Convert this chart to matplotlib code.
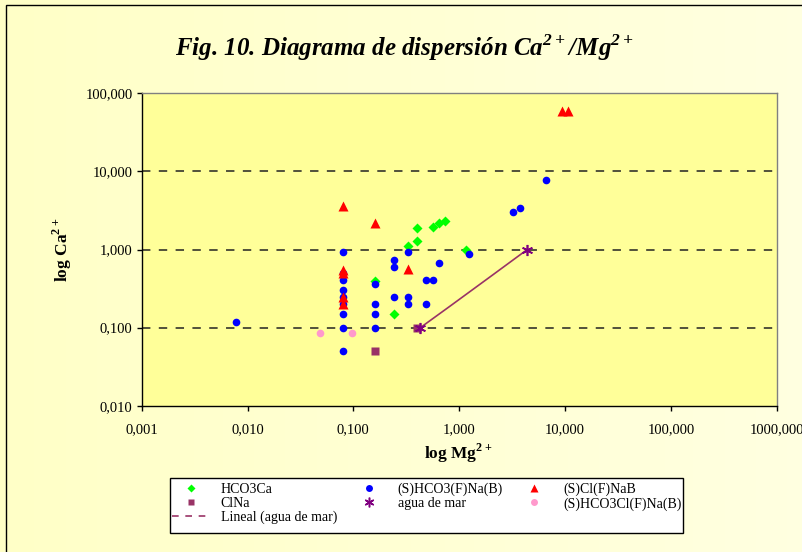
import numpy as np
import matplotlib
matplotlib.use("Agg")
import matplotlib.pyplot as plt
from matplotlib.lines import Line2D
from matplotlib.patches import Rectangle
from matplotlib.ticker import FixedLocator, FuncFormatter, NullLocator

plt.rcParams["font.family"] = ["Liberation Serif", "DejaVu Serif"]
plt.rcParams["mathtext.fontset"] = "custom"
plt.rcParams["mathtext.rm"] = "Liberation Serif"
plt.rcParams["mathtext.bf"] = "Liberation Serif:bold"
plt.rcParams["mathtext.bfit"] = "Liberation Serif:bold:italic"

# ---- data (Mg2+, Ca2+) per water type ----
hco3ca_mg = [0.16, 0.24, 0.33, 0.40, 0.40, 0.57, 0.65, 0.73, 1.15]
hco3ca_ca = [0.40, 0.15, 1.12, 1.30, 1.90, 1.96, 2.20, 2.29, 1.00]

hco3na_mg = [0.0077,
             0.08, 0.08, 0.08, 0.08, 0.08, 0.08, 0.08, 0.08, 0.08,
             0.16, 0.16, 0.16, 0.16,
             0.24, 0.24, 0.24, 0.33, 0.33, 0.33,
             0.485, 0.57, 0.485, 0.65, 1.24, 3.22, 3.79, 6.65]
hco3na_ca = [0.117,
             0.94, 0.50, 0.41, 0.30, 0.25, 0.20, 0.15, 0.10, 0.05,
             0.36, 0.20, 0.15, 0.10,
             0.73, 0.60, 0.25, 0.94, 0.25, 0.20,
             0.41, 0.41, 0.20, 0.68, 0.87, 2.99, 3.37, 7.7]

clnab_mg = [0.08, 0.08, 0.08, 0.08, 0.08, 0.16, 0.33, 9.3, 10.7]
clnab_ca = [3.6, 0.55, 0.50, 0.25, 0.20, 2.2, 0.56, 60.0, 60.0]

clna_mg = [0.16, 0.40]
clna_ca = [0.05, 0.10]

mar_mg = [0.43, 4.4]
mar_ca = [0.10, 1.00]

hco3cl_mg = [0.048, 0.098]
hco3cl_ca = [0.085, 0.085]

x_ticks = [0.001, 0.01, 0.1, 1, 10, 100, 1000]
y_ticks = [0.01, 0.1, 1, 10, 100]

W, H = 803, 552
fig = plt.figure(figsize=(W / 100, H / 100), dpi=100)
fig.patch.set_facecolor("#FFFFCC")

# soft horizontal background gradient
bg = fig.add_axes([0, 0, 1, 1], zorder=-10)
grad = np.linspace(0, 1, 256)[None, :]
c0 = np.array([1.0, 1.0, 0.78])
c1 = np.array([1.0, 1.0, 0.88])
img = c0[None, None, :] * (1 - grad[..., None]) + c1[None, None, :] * grad[..., None]
bg.imshow(img, aspect="auto", extent=[0, 1, 0, 1])
bg.set_axis_off()
fig.patches.append(Rectangle((6 / W, -0.05), 1.1, 1 - 5 / H + 0.05,
                             transform=fig.transFigure, fill=False,
                             edgecolor="black", linewidth=1.0, zorder=-5))

ax = fig.add_axes([141.7 / W, 1 - 405.7 / H, 635 / W, 312.4 / H])
ax.set_facecolor("#FFFF99")
ax.set_xscale("log")
ax.set_yscale("log")
ax.set_xlim(x_ticks[0], x_ticks[-1])
ax.set_ylim(y_ticks[0], y_ticks[-1])

fmt = FuncFormatter(lambda v, p: f"{v:.3f}".replace(".", ","))
ax.xaxis.set_major_locator(FixedLocator(x_ticks))
ax.yaxis.set_major_locator(FixedLocator(y_ticks))
ax.xaxis.set_minor_locator(NullLocator())
ax.yaxis.set_minor_locator(NullLocator())
ax.xaxis.set_major_formatter(fmt)
ax.yaxis.set_major_formatter(fmt)
ax.tick_params(axis="both", direction="out", length=3.5, width=1,
               labelsize=10.5, color="black")
ax.tick_params(axis="x", pad=9)
ax.tick_params(axis="y", pad=3)

for s in ("left", "bottom"):
    ax.spines[s].set_color("black")
    ax.spines[s].set_linewidth(1.0)
for s in ("top", "right"):
    ax.spines[s].set_color("#808080")
    ax.spines[s].set_linewidth(1.0)

for yv in y_ticks[1:-1]:
    ax.axhline(yv, color="#222222", linewidth=1.1, dashes=(5.5, 5.5), zorder=1)

# linear trend through the seawater points
coef = np.polyfit(mar_mg, mar_ca, 1)
xs = np.linspace(min(mar_mg), max(mar_mg), 200)
ax.plot(xs, np.polyval(coef, xs), color="#993366", linewidth=1.2, zorder=2)

ax.plot(hco3ca_mg, hco3ca_ca, "D", color="#00FF00", ms=5, mec="none", zorder=3)
ax.plot(hco3na_mg, hco3na_ca, "o", color="#0000FF", ms=5.5, mec="none", zorder=4)
ax.plot(clnab_mg, clnab_ca, "^", color="#FF0000", ms=6.5, mec="none", zorder=5)
ax.plot(clna_mg, clna_ca, "s", color="#993366", ms=5.5, mec="none", zorder=3)
ax.plot(mar_mg, mar_ca, marker=(6, 2, 0), ls="none", color="#800080", ms=8,
        mew=1.2, zorder=6)
ax.plot(hco3cl_mg, hco3cl_ca, "o", color="#FF99CC", ms=5.5, mec="none", zorder=3)

fig.text(405 / W, 1 - 48 / H,
         r"Fig. 10. Diagrama de dispersión Ca$^{\mathbfit{2+}}$/Mg$^{\mathbfit{2+}}$",
         fontsize=18, fontweight="bold", style="italic", ha="center", va="center")
fig.text(62 / W, 1 - 250 / H, r"log Ca$^{\mathbf{2+}}$", fontsize=12.5,
         fontweight="bold", rotation=90, ha="center", va="center")
fig.text(458 / W, 1 - 453 / H, r"log Mg$^{\mathbf{2+}}$", fontsize=12.5,
         fontweight="bold", ha="center", va="center")

# legend box
fig.patches.append(Rectangle((170 / W, 1 - 533 / H), 513 / W, 55 / H,
                             transform=fig.transFigure, facecolor="white",
                             edgecolor="black", linewidth=1.0, zorder=1))

handles = [
    Line2D([], [], ls="none", marker="D", color="#00FF00", ms=4.5, mec="none"),
    Line2D([], [], ls="none", marker="s", color="#993366", ms=5, mec="none"),
    Line2D([], [], color="#993366", lw=1.2, dashes=(4, 4)),
    Line2D([], [], ls="none", marker="o", color="#0000FF", ms=5, mec="none"),
    Line2D([], [], ls="none", marker=(6, 2, 0), color="#800080", ms=7, mew=1.1),
    Line2D([], [], ls="none", marker="^", color="#FF0000", ms=6, mec="none"),
    Line2D([], [], ls="none", marker="o", color="#FF99CC", ms=5, mec="none"),
]
labels = ["HCO3Ca", "ClNa", "Lineal (agua de mar)", "(S)HCO3(F)Na(B)",
          "agua de mar", "(S)Cl(F)NaB", "(S)HCO3Cl(F)Na(B)"]
leg = fig.legend(handles, labels, ncol=3, loc="upper left",
                 bbox_to_anchor=(172 / W, 1 - 483 / H, 510 / W, 0.001),
                 mode="expand", fontsize=10, frameon=False,
                 handlelength=2.8, handletextpad=0.7, columnspacing=1.0,
                 labelspacing=0.08, borderpad=0.0, borderaxespad=0)
leg.set_zorder(2)

fig.savefig("out.png", dpi=100)
